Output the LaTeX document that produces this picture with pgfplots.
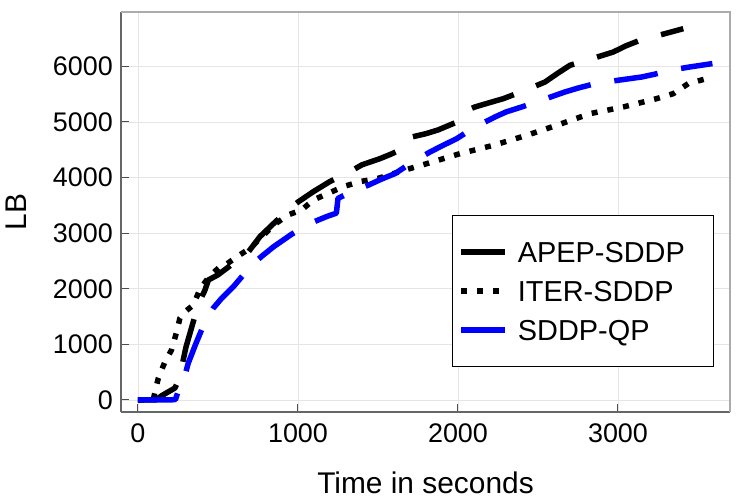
\documentclass[border=0pt]{standalone}
\usepackage{fontspec}
\setmainfont{Liberation Sans}
\usepackage{pgfplots}
\pgfplotsset{compat=1.18}
\begin{document}
\begin{tikzpicture}
\path[use as bounding box] (-121bp,-88bp) rectangle (629bp,412bp);
\begin{axis}[
  at={(0,0)}, anchor=south west,
  scale only axis, width=609bp, height=400bp,
  xmin=-106, xmax=3700, ymin=-216, ymax=6978,
  axis x line=bottom, axis y line=left,
  xtick={0,1000,2000,3000}, ytick={0,1000,2000,3000,4000,5000,6000},
  scaled ticks=false,
  /pgf/number format/assume math mode=true,
  /pgf/number format/1000 sep={},
  tick label style={font=\fontsize{27}{27}\selectfont},
  xticklabel style={anchor=north, inner sep=0pt, yshift=-12bp},
  yticklabel style={anchor=east, inner sep=0pt, xshift=-8bp},
  tick align=inside, major tick length=8bp,
  tick style={black!70, line width=1bp},
  grid=major, grid style={black!10, line width=0.8bp},
  axis line style={-, black!60, line width=1.5bp},
  after end axis/.code={\draw[black!33, line width=1.2bp] (rel axis cs:0,1) -- (rel axis cs:1,1) -- (rel axis cs:1,0);},
  xlabel={Time in seconds},
  xlabel style={at={(axis description cs:0.5,-0.2025)}, anchor=base, font=\fontsize{30}{30}\selectfont},
  ylabel={LB},
  ylabel style={at={(axis description cs:-0.1544,0.5)}, anchor=base, font=\fontsize{30}{30}\selectfont},
  legend style={at={(axis description cs:0.5435,0.1125)}, anchor=south west,
    draw=black, line width=0.8bp, fill=white,
    inner xsep=6bp, inner ysep=26bp, row sep=18bp,
    nodes={inner sep=0bp, font=\fontsize{29}{29}\selectfont, text height=21bp, text depth=0bp},
    /tikz/every odd column/.append style={column sep=9bp}},
  legend cell align=left,
  legend image code/.code={\draw[#1] (0bp,0bp) -- (45bp,0bp);},
  every axis plot/.append style={line width=5.5bp, line cap=butt, line join=round, no markers},
]
\addplot[black, dash pattern=on 44bp off 24bp] coordinates {
(0,0) (110,0) (150,80) (231,215) (260,400) (283,720) (300,950) (330,1250) (367,1619)
(390,1800) (419,1978) (440,2158) (500,2250) (560,2380) (600,2470) (658,2548)
(700,2700) (762,2937) (850,3180) (939,3417) (1000,3560) (1096,3747) (1200,3930)
(1325,4106) (1400,4230) (1512,4340) (1580,4420) (1656,4520) (1700,4700) (1711,4730)
(1800,4790) (1875,4856) (1994,5000) (2031,5180) (2106,5270) (2200,5350) (2283,5419)
(2420,5570) (2544,5719) (2620,5870) (2700,6020) (2850,6150) (2971,6259) (3050,6370)
(3137,6469) (3270,6570) (3408,6678)
};
\addlegendentry{\makebox[190bp][l]{APEP-SDDP}}
\addplot[black, dash pattern=on 6bp off 10bp] coordinates {
(0,0) (95,0) (115,250) (127,390) (169,690) (210,900) (242,1229) (262,1470) (300,1600)
(346,1709) (387,1990) (440,2200) (512,2398) (546,2428) (619,2577) (700,2728)
(762,2900) (850,3150) (939,3330) (1023,3417) (1096,3597) (1190,3717) (1283,3837)
(1387,3927) (1502,3987) (1650,4120) (1804,4250) (2012,4430) (2221,4580) (2429,4760)
(2617,4940) (2825,5150) (3033,5270) (3242,5420) (3346,5510) (3439,5690) (3554,5780)
};
\addlegendentry{\makebox[190bp][l]{ITER-SDDP}}
\addplot[blue, dash pattern=on 44bp off 24bp] coordinates {
(0,0) (200,0) (235,10) (250,150) (280,300) (314,660) (360,1000) (419,1408) (470,1650)
(523,1829) (600,2050) (711,2428) (780,2600) (848,2757) (960,2980) (1077,3178)
(1180,3300) (1240,3360) (1250,3627) (1340,3750) (1442,3867) (1520,3970) (1606,4071)
(1700,4250) (1825,4460) (1900,4570) (1992,4700) (2100,4900) (2231,5090) (2300,5180)
(2398,5270) (2530,5400) (2669,5540) (2750,5610) (2856,5689) (3000,5750) (3148,5809)
(3230,5860) (3325,5930) (3450,5990) (3590,6050)
};
\addlegendentry{\makebox[190bp][l]{SDDP-QP}}
\end{axis}
\end{tikzpicture}
\end{document}
